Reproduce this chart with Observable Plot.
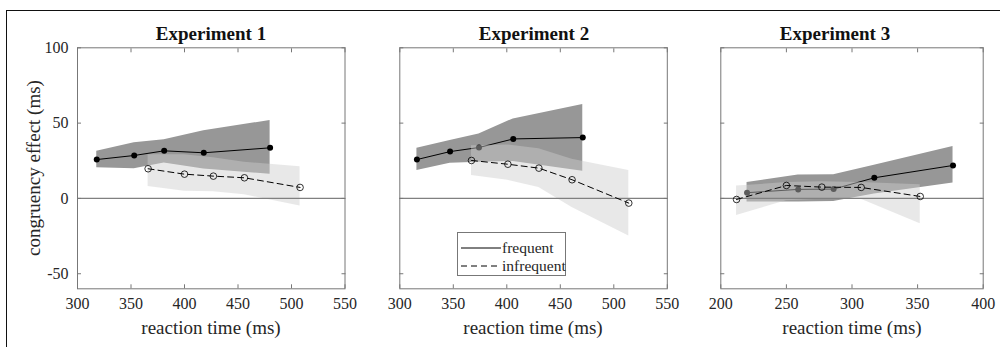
<!DOCTYPE html>
<html>
<head>
<meta charset="utf-8">
<script src="https://cdn.jsdelivr.net/npm/d3@7"></script>
<script src="https://cdn.jsdelivr.net/npm/@observablehq/plot@0.6"></script>
<style>
  html, body { margin: 0; padding: 0; background: #fff; }
  #fig { position: relative; width: 1000px; height: 347px; background: #fff; overflow: hidden;
         font-family: "Liberation Serif", "Times New Roman", serif; color: #262626; }
  #fig svg, #fig svg text { font-family: "Liberation Serif", "Times New Roman", serif !important; }
  .frame { position: absolute; left: 6px; top: 10px; width: 1000px; height: 400px;
           border-top: 1.3px solid #111; border-left: 1.3px solid #111; }
  .ttl { position: absolute; font-weight: bold; font-size: 19px; line-height: 1; transform: translate(-50%, -50%); white-space: nowrap; color: #111; }
  .xl { position: absolute; font-size: 19px; line-height: 1; transform: translate(-50%, -50%); white-space: nowrap; }
  .yl { position: absolute; font-size: 19px; line-height: 1; transform: translate(-50%, -50%) rotate(-90deg); white-space: nowrap; }
  .pnl { position: absolute; top: 0; }
  .legend { position: absolute; left: 457px; top: 232px; width: 109px; height: 44px; border: 1px solid #777;
            background: #fff; font-size: 15.5px; box-sizing: border-box; }
  .legend .row { position: absolute; left: 3px; height: 18px; display: flex; align-items: center; }
  .legend svg { display: block; }
</style>
</head>
<body>
<div id="fig">
  <div class="frame"></div>
</div>
<script>
// ---------- data ----------
const yTicks = [-50, 0, 50, 100];
const xTicks12 = [300, 350, 400, 450, 500, 550];
const xTicks3 = [200, 250, 300, 350, 400];
const panelTitles = ["Experiment 1", "Experiment 2", "Experiment 3"];
const seriesNames = ["frequent", "infrequent"];

// Experiment 1
const exp1FreqRT = [318, 353, 381, 418, 480];
const exp1FreqEffect = [25.8, 28.5, 31.6, 30.3, 33.6];
const exp1FreqLo = [20.3, 19.7, 23.6, 19.5, 16.0];
const exp1FreqHi = [31.3, 36.9, 38.9, 45.0, 51.7];
const exp1InfRT = [366, 400, 427, 456, 508];
const exp1InfEffect = [19.7, 16.1, 14.8, 13.7, 7.3];
const exp1InfLo = [7.9, 4.8, 4.5, 2.5, -5.1];
const exp1InfHi = [29.0, 29.0, 27.0, 24.0, 21.0];

// Experiment 2
const exp2FreqRT = [316, 347, 374, 406, 471];
const exp2FreqEffect = [25.8, 31.1, 33.8, 39.5, 40.4];
const exp2FreqLo = [18.5, 23.4, 24.0, 24.5, 18.1];
const exp2FreqHi = [33.3, 38.4, 42.8, 52.8, 62.3];
const exp2InfRT = [367, 401, 430, 461, 514];
const exp2InfEffect = [25.2, 22.7, 20.1, 12.4, -3.1];
const exp2InfLo = [15.2, 12.0, 7.3, -6.0, -25.0];
const exp2InfHi = [35.0, 35.5, 33.0, 26.0, 18.5];

// Experiment 3
const exp3FreqRT = [220, 259, 286, 317, 377];
const exp3FreqEffect = [3.8, 6.0, 6.2, 13.7, 21.9];
const exp3FreqLo = [-2.4, -2.4, -2.0, 3.0, 10.2];
const exp3FreqHi = [10.5, 15.5, 15.7, 22.0, 34.4];
const exp3InfRT = [212, 250, 277, 307, 352];
const exp3InfEffect = [-0.7, 8.6, 7.5, 7.3, 1.3];
const exp3InfLo = [-11.3, -1.5, -0.5, -0.5, -16.8];
const exp3InfHi = [8.2, 10.5, 11.0, 10.5, 9.0];

// ---------- build ----------
const fig = document.getElementById("fig");
const toRows = (rt, eff, lo, hi) => rt.map((x, i) => ({x, y: eff[i], lo: lo[i], hi: hi[i]}));

const AX = "#777777";
function panel(cfg) {
  const freq = toRows(cfg.fRT, cfg.fEff, cfg.fLo, cfg.fHi);
  const inf = toRows(cfg.iRT, cfg.iEff, cfg.iLo, cfg.iHi);
  const chart = Plot.plot({
    width: cfg.width, height: 347,
    marginLeft: cfg.mLeft, marginRight: cfg.mRight, marginTop: 47.3, marginBottom: 58.7,
    style: {background: "transparent", fontFamily: "Liberation Serif, Times New Roman, serif", fontSize: "16px", color: "#262626", overflow: "visible"},
    x: {domain: cfg.xDomain, ticks: cfg.xTicks, label: null},
    y: {domain: [-60, 100], ticks: yTicks, label: null},
    marks: [
      Plot.areaY(freq, {x: "x", y1: "lo", y2: "hi", fill: "#979797"}),
      Plot.line(freq, {x: "x", y: "y", stroke: "#000", strokeWidth: 1}),
      Plot.dot(freq, {x: "x", y: "y", r: 3, fill: "#000", stroke: null}),
      Plot.areaY(inf, {x: "x", y1: "lo", y2: "hi", fill: "#cccccc", fillOpacity: 0.45}),
      Plot.ruleY([0], {stroke: "#808080", strokeWidth: 1.3}),
      Plot.line(inf, {x: "x", y: "y", stroke: "#000", strokeWidth: 1, strokeDasharray: "6,4"}),
      Plot.dot(inf, {x: "x", y: "y", r: 3.3, fill: "none", stroke: "#000", strokeWidth: 0.8}),
      Plot.frame({stroke: AX}),
      Plot.axisX({anchor: "bottom", ticks: cfg.xTicks, tickSize: -4, tickPadding: 13, stroke: AX, label: null, tickFormat: d => String(d)}),
      Plot.axisX({anchor: "top", ticks: cfg.xTicks, tickSize: -4, stroke: AX, label: null, tickFormat: () => ""}),
      Plot.axisY({anchor: "left", ticks: yTicks, tickSize: -4, tickPadding: 13, stroke: AX, label: null,
                  tickFormat: cfg.showY ? (d => String(d)) : () => ""}),
      Plot.axisY({anchor: "right", ticks: yTicks, tickSize: -4, stroke: AX, label: null, tickFormat: () => ""})
    ]
  });
  const wrap = document.createElement("div");
  wrap.className = "pnl";
  wrap.style.left = cfg.left + "px";
  wrap.appendChild(chart);
  fig.appendChild(wrap);

  const t = document.createElement("div");
  t.className = "ttl"; t.textContent = cfg.title;
  t.style.left = cfg.titleX + "px"; t.style.top = "33px";
  fig.appendChild(t);

  const xl = document.createElement("div");
  xl.className = "xl"; xl.textContent = "reaction time (ms)";
  xl.style.left = cfg.xLabelX + "px"; xl.style.top = "327px";
  fig.appendChild(xl);
}

panel({left: 0, width: 370, mLeft: 77, mRight: 370 - 344.5, xDomain: [300, 550], xTicks: xTicks12, showY: true,
       title: panelTitles[0], titleX: 211, xLabelX: 211,
       fRT: exp1FreqRT, fEff: exp1FreqEffect, fLo: exp1FreqLo, fHi: exp1FreqHi,
       iRT: exp1InfRT, iEff: exp1InfEffect, iLo: exp1InfLo, iHi: exp1InfHi});
panel({left: 370, width: 320, mLeft: 399.3 - 370, mRight: 690 - 666.8, xDomain: [300, 550], xTicks: xTicks12, showY: false,
       title: panelTitles[1], titleX: 534, xLabelX: 533,
       fRT: exp2FreqRT, fEff: exp2FreqEffect, fLo: exp2FreqLo, fHi: exp2FreqHi,
       iRT: exp2InfRT, iEff: exp2InfEffect, iLo: exp2InfLo, iHi: exp2InfHi});
panel({left: 690, width: 310, mLeft: 720.3 - 690, mRight: 1000 - 982.7, xDomain: [200, 400], xTicks: xTicks3, showY: false,
       title: panelTitles[2], titleX: 835, xLabelX: 852,
       fRT: exp3FreqRT, fEff: exp3FreqEffect, fLo: exp3FreqLo, fHi: exp3FreqHi,
       iRT: exp3InfRT, iEff: exp3InfEffect, iLo: exp3InfLo, iHi: exp3InfHi});

// y label
const yl = document.createElement("div");
yl.className = "yl"; yl.textContent = "congruency effect (ms)";
yl.style.left = "33px"; yl.style.top = "168px";
fig.appendChild(yl);

// legend (in Experiment 2 panel)
const lg = document.createElement("div");
lg.className = "legend";
seriesNames.forEach((name, i) => {
  const row = document.createElement("div");
  row.className = "row";
  row.style.top = (6 + i * 18) + "px";
  row.innerHTML = `<svg width="40" height="10"><line x1="0" x2="40" y1="5" y2="5" stroke="#000" stroke-width="1" ${i ? 'stroke-dasharray="6,4"' : ''}/></svg><span style="margin-left:1px">${name}</span>`;
  lg.appendChild(row);
});
fig.appendChild(lg);
</script>
</body>
</html>
